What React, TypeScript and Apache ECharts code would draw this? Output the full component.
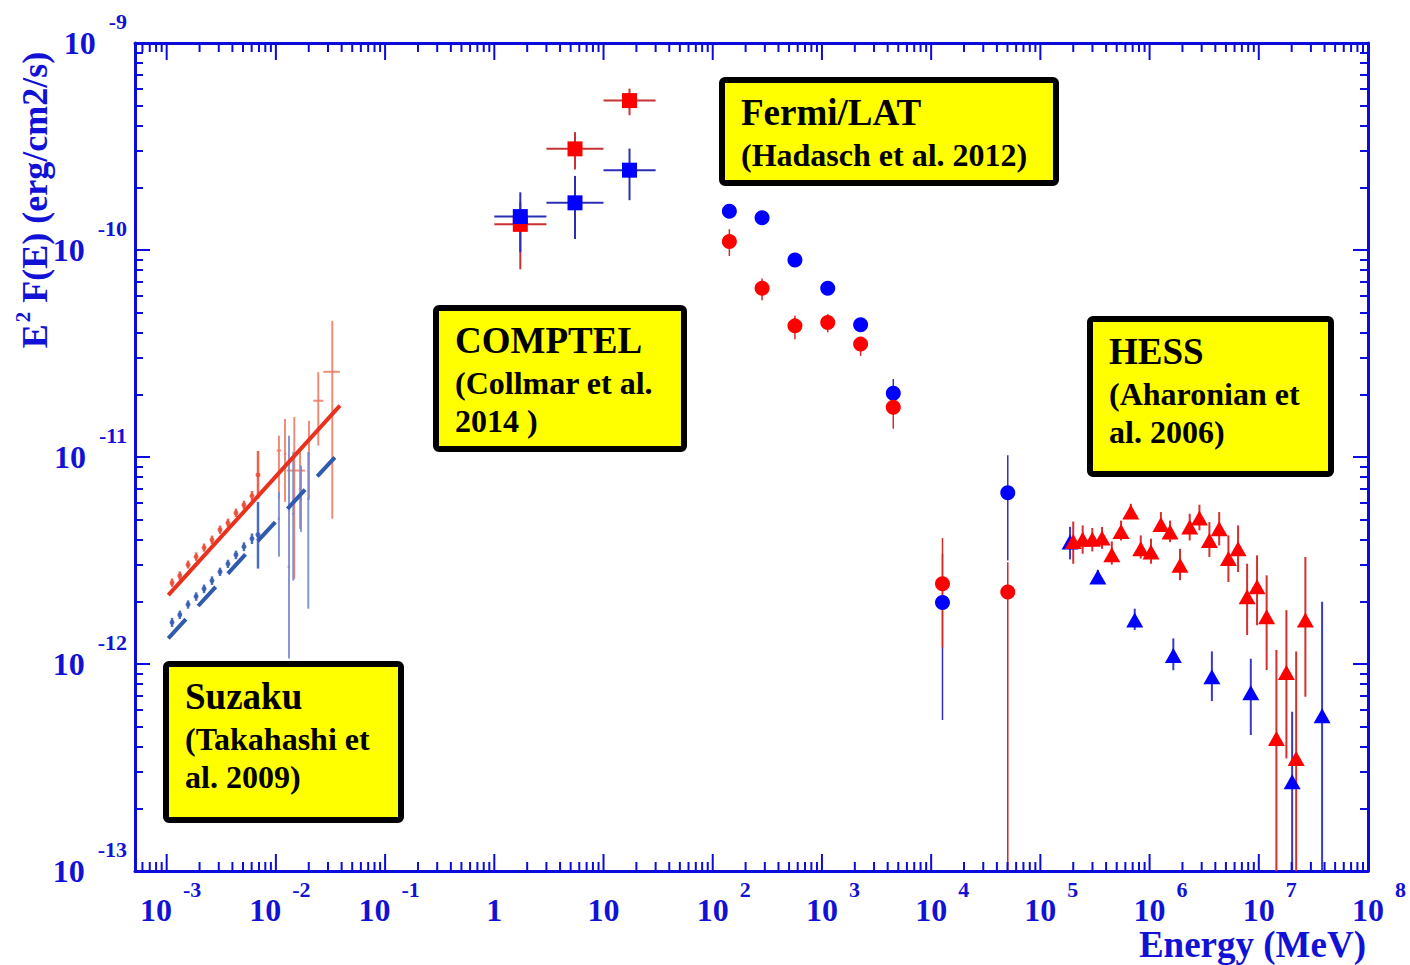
import React, { useEffect, useRef } from 'react';
import * as echarts from 'echarts';

const AXIS_BLUE = '#0b0bdc';
const TEXT_BLUE = '#1212d6';
const SERIF = '"Liberation Serif", "Times New Roman", Times, serif';

// Axis ranges (MeV on x, erg/cm2/s on y)
const X_MIN = Math.pow(10, -3.29);
const X_MAX = 1e8;
const Y_MIN = 1e-13;
const Y_MAX = 1e-9;

// Tick labels
const xTickExp = [-3, -2, -1, 0, 1, 2, 3, 4, 5, 6, 7, 8];
const xTickBase = ['10', '10', '10', '1', '10', '10', '10', '10', '10', '10', '10', '10'];
const xTickPower = ['-3', '-2', '-1', '', '', '2', '3', '4', '5', '6', '7', '8'];
const yTickExp = [-13, -12, -11, -10, -9];
const yTickBase = ['10', '10', '10', '10', '10'];
const yTickPower = ['-13', '-12', '-11', '-10', '-9'];
// Minor ticks sit at 2..9 times each decade
const minorMultipliers = [2, 3, 4, 5, 6, 7, 8, 9];

// Suzaku (Takahashi et al. 2009): power-law fits
const suzakuFitRed = [[1.035e-3, 2.15e-12], [0.0386, 1.77e-11]];
const suzakuFitBlue = [[1.035e-3, 1.33e-12], [0.0386, 1.06e-11]];

// Suzaku XIS points
const xisEnergy = [1.12e-3, 1.32e-3, 1.57e-3, 1.86e-3, 2.2e-3, 2.6e-3, 3.08e-3, 3.64e-3, 4.31e-3, 5.1e-3, 6.04e-3, 6.86e-3];
const xisRed = [2.47e-12, 2.67e-12, 3.02e-12, 3.3e-12, 3.65e-12, 3.98e-12, 4.45e-12, 4.81e-12, 5.37e-12, 5.87e-12, 6.49e-12, 8.2e-12];
const xisRedLo = [2.36e-12, 2.55e-12, 2.89e-12, 3.15e-12, 3.49e-12, 3.8e-12, 4.25e-12, 4.59e-12, 5.13e-12, 5.6e-12, 6.15e-12, 6.28e-12];
const xisRedHi = [2.59e-12, 2.8e-12, 3.16e-12, 3.46e-12, 3.82e-12, 4.17e-12, 4.66e-12, 5.04e-12, 5.63e-12, 6.15e-12, 6.85e-12, 1.07e-11];
const xisBlue = [1.59e-12, 1.73e-12, 1.94e-12, 2.12e-12, 2.31e-12, 2.53e-12, 2.79e-12, 3.05e-12, 3.37e-12, 3.69e-12, 4.03e-12, 4.21e-12];
const xisBlueLo = [1.51e-12, 1.65e-12, 1.85e-12, 2.02e-12, 2.2e-12, 2.41e-12, 2.66e-12, 2.91e-12, 3.21e-12, 3.51e-12, 3.8e-12, 2.89e-12];
const xisBlueHi = [1.67e-12, 1.81e-12, 2.03e-12, 2.22e-12, 2.42e-12, 2.65e-12, 2.92e-12, 3.19e-12, 3.53e-12, 3.87e-12, 4.27e-12, 6.07e-12];

// Suzaku HXD points
const hxdRedEnergy = [0.01067, 0.01212, 0.01474, 0.01662, 0.0201, 0.02444, 0.03284];
const hxdRedELo = [0.01017, 0.0118, 0.01256, 0.0162, 0.0196, 0.02201, 0.02717];
const hxdRedEHi = [0.0112, 0.01245, 0.01847, 0.01705, 0.0206, 0.02717, 0.03857];
const hxdRed = [1.074e-11, 1.035e-11, 8.6e-12, 7.02e-12, 1.035e-11, 1.87e-11, 2.58e-11];
const hxdRedLo = [6.28e-12, 6.07e-12, 2.58e-12, 4.5e-12, 6.28e-12, 1.135e-11, 5.03e-12];
const hxdRedHi = [1.268e-11, 1.526e-11, 1.561e-11, 1.094e-11, 1.497e-11, 2.57e-11, 4.55e-11];
const hxdBlueEnergy = [0.01067, 0.01318, 0.01443, 0.01698, 0.0198];
const hxdBlueELo = [0.0104, 0.0128, 0.0141, 0.0166, 0.0193];
const hxdBlueEHi = [0.0109, 0.0135, 0.0148, 0.0174, 0.0203];
const hxdBlue = [5.03e-12, 2.95e-12, 5.32e-12, 6.28e-12, 6.28e-12];
const hxdBlueLo = [3.3e-12, 1.063e-12, 2.53e-12, 4.35e-12, 1.85e-12];
const hxdBlueHi = [6.79e-12, 1.268e-11, 1.058e-11, 9.09e-12, 1.058e-11];

// COMPTEL (Collmar et al. 2014)
const comptelEnergy = [1.73, 5.48, 17.3];
const comptelBinLo = [1, 3, 10];
const comptelBinHi = [3, 10, 30];
const comptelRed = [1.33e-10, 3.08e-10, 5.27e-10];
const comptelRedLo = [8.07e-11, 2.45e-10, 4.48e-10];
const comptelRedHi = [1.7e-10, 3.71e-10, 6.02e-10];
const comptelBlue = [1.45e-10, 1.69e-10, 2.43e-10];
const comptelBlueLo = [9.75e-11, 1.13e-10, 1.74e-10];
const comptelBlueHi = [1.9e-10, 2.28e-10, 3.09e-10];

// Fermi/LAT (Hadasch et al. 2012)
const latEnergy = [142, 283, 566, 1130, 2260, 4500, 12700, 50300];
const latRed = [1.1e-10, 6.53e-11, 4.3e-11, 4.47e-11, 3.51e-11, 1.74e-11, 2.44e-12, 2.23e-12];
const latRedLo = [9.35e-11, 5.72e-11, 3.71e-11, 4.0e-11, 3.08e-11, 1.37e-11, 1.2e-12, 1e-14];
const latRedHi = [1.26e-10, 7.28e-11, 4.81e-11, 4.9e-11, 3.78e-11, 2.1e-11, 4.06e-12, 3.1e-12];
const latBlue = [1.54e-10, 1.43e-10, 8.95e-11, 6.53e-11, 4.35e-11, 2.03e-11, 1.98e-12, 6.71e-12];
const latBlueLo = [1.48e-10, 1.38e-10, 8.6e-11, 6.3e-11, 4.15e-11, 1.75e-11, 5.36e-13, 3.16e-12];
const latBlueHi = [1.6e-10, 1.49e-10, 9.3e-11, 6.8e-11, 4.55e-11, 2.38e-11, 3.41e-12, 1.02e-11];

// HESS (Aharonian et al. 2006)
const hessRedEnergy = [2.0e5, 2.44e5, 2.99e5, 3.67e5, 4.51e5, 5.48e5, 6.73e5, 8.3e5, 1.03e6, 1.27e6, 1.54e6, 1.9e6, 2.33e6, 2.86e6, 3.53e6, 4.34e6, 5.27e6, 6.46e6, 7.82e6, 9.64e6, 1.18e7, 1.45e7, 1.79e7, 2.2e7, 2.67e7];
const hessRed = [3.91e-12, 4.0e-12, 4.0e-12, 4.06e-12, 3.37e-12, 4.37e-12, 5.42e-12, 3.6e-12, 3.48e-12, 4.72e-12, 4.34e-12, 3.0e-12, 4.59e-12, 5.07e-12, 3.95e-12, 4.5e-12, 3.23e-12, 3.6e-12, 2.11e-12, 2.36e-12, 1.69e-12, 4.37e-13, 9.1e-13, 3.5e-13, 1.63e-12];
const hessRedLo = [3.05e-12, 3.41e-12, 3.5e-12, 3.6e-12, 3.02e-12, 3.95e-12, 5.03e-12, 3.23e-12, 3.05e-12, 4.34e-12, 3.88e-12, 2.54e-12, 3.95e-12, 4.42e-12, 3.29e-12, 3.74e-12, 2.49e-12, 2.78e-12, 1.38e-12, 1.54e-12, 9.34e-13, 1e-14, 3.5e-13, 1e-14, 6.95e-13];
const hessRedHi = [4.88e-12, 4.67e-12, 4.54e-12, 4.59e-12, 3.91e-12, 4.93e-12, 5.94e-12, 4.18e-12, 4.03e-12, 5.42e-12, 4.93e-12, 3.6e-12, 5.32e-12, 5.88e-12, 4.85e-12, 5.42e-12, 4.18e-12, 4.67e-12, 3.05e-12, 3.35e-12, 2.68e-12, 1.17e-12, 1.82e-12, 1.15e-12, 3.29e-12];
const hessBlueEnergy = [1.87e5, 3.36e5, 7.31e5, 1.65e6, 3.72e6, 8.45e6, 2.02e7, 3.8e7];
const hessBlue = [3.88e-12, 2.63e-12, 1.63e-12, 1.1e-12, 8.68e-13, 7.26e-13, 2.7e-13, 5.63e-13];
const hessBlueLo = [3.2e-12, 2.45e-12, 1.46e-12, 9.33e-13, 6.62e-13, 4.54e-13, 1e-14, 1e-14];
const hessBlueHi = [4.6e-12, 2.85e-12, 1.85e-12, 1.33e-12, 1.15e-12, 1.06e-12, 5.88e-13, 2.0e-12];

// Annotation box texts
const suzakuLines = ['Suzaku', '(Takahashi et', 'al. 2009)'];
const comptelLines = ['COMPTEL', '(Collmar et al.', '2014 )'];
const latLines = ['Fermi/LAT', '(Hadasch et al. 2012)'];
const hessLines = ['HESS', '(Aharonian et', 'al. 2006)'];

const rows = (x: number[], y: number[], xlo: number[], xhi: number[], ylo: number[], yhi: number[]) =>
  x.map((v, i) => [v, y[i], xlo[i], xhi[i], ylo[i], yhi[i]]);

const points = (x: number[], y: number[]) => x.map((v, i) => [v, y[i]]);

function errorBars(rowsData: number[][], color: string, width: number, opacity = 1): any {
  return {
    type: 'custom',
    silent: true,
    data: rowsData,
    encode: { x: 0, y: 1 },
    renderItem: (_params: any, api: any) => {
      const x = api.value(0);
      const y = api.value(1);
      const c = api.coord([x, y]);
      const xl = api.coord([api.value(2), y])[0];
      const xh = api.coord([api.value(3), y])[0];
      const yl = api.coord([x, Math.max(api.value(4), Y_MIN)])[1];
      const yh = api.coord([x, Math.min(api.value(5), Y_MAX)])[1];
      const style = { stroke: color, lineWidth: width, opacity };
      const children: any[] = [
        { type: 'line', shape: { x1: c[0], y1: yh, x2: c[0], y2: yl }, style },
      ];
      if (xh - xl > 1) {
        children.push({ type: 'line', shape: { x1: xl, y1: c[1], x2: xh, y2: c[1] }, style });
      }
      return { type: 'group', children };
    },
  };
}

function markers(data: number[][], symbol: string, size: any, color: string, opacity = 1): any {
  return {
    type: 'scatter',
    silent: true,
    data,
    symbol,
    symbolSize: size,
    itemStyle: { color, opacity },
  };
}

const tickFont = { fontFamily: SERIF, fontWeight: 'bold', fill: TEXT_BLUE };

function xLabel(exp: number): string {
  const i = xTickExp.indexOf(exp);
  if (i < 0) return '';
  const p = xTickPower[i];
  if (!p) return `{xb|${xTickBase[i]}}`;
  return `{${p.charAt(0) === '-' ? 'xbn' : 'xbp'}|${xTickBase[i]}}{xs|${p}}`;
}

// The base "10" sits at the bottom of the line, the exponent at its top
const xLabelRich = {
  xb: { ...tickFont, fontSize: 32, lineHeight: 47, verticalAlign: 'bottom' },
  xbp: { ...tickFont, fontSize: 32, lineHeight: 47, verticalAlign: 'bottom', padding: [0, 0, 0, 22] },
  xbn: { ...tickFont, fontSize: 32, lineHeight: 47, verticalAlign: 'bottom', padding: [0, 0, 0, 8] },
  xs: { ...tickFont, fontSize: 22, verticalAlign: 'top', padding: [0, 0, 0, 11] },
};

// Energy-axis ticks: [value, y anchor, 1 = decade / 0 = minor, exponent]
const xTickRows: number[][] = [];
xTickExp.forEach((e) => xTickRows.push([Math.pow(10, e), Y_MIN, 1, e]));
for (let e = -4; e <= 7; e++) {
  minorMultipliers.forEach((m) => {
    const v = m * Math.pow(10, e);
    if (v > X_MIN && v < X_MAX) xTickRows.push([v, Y_MIN, 0, e]);
  });
}

const xTickSeries: any = {
  type: 'custom',
  silent: true,
  data: xTickRows,
  encode: { x: 0, y: 1 },
  z: 5,
  renderItem: (_params: any, api: any) => {
    const v = api.value(0);
    const major = api.value(2) === 1;
    const b = api.coord([v, Y_MIN]);
    const t = api.coord([v, Y_MAX]);
    const len = major ? 17 : 9;
    const style = { stroke: AXIS_BLUE, lineWidth: 2 };
    const children: any[] = [
      { type: 'line', shape: { x1: b[0], y1: b[1], x2: b[0], y2: b[1] - len }, style },
      { type: 'line', shape: { x1: t[0], y1: t[1], x2: t[0], y2: t[1] + len }, style },
    ];
    if (major) {
      children.push({
        type: 'text',
        x: b[0],
        y: b[1] + 7.5,
        style: {
          text: xLabel(api.value(3)),
          rich: xLabelRich,
          align: 'center',
          verticalAlign: 'top',
          textAlign: 'center',
          textVerticalAlign: 'top',
        },
      });
    }
    return { type: 'group', children };
  },
};

function yLabel(v: number): string {
  const l = Math.log10(v);
  const e = Math.round(l);
  if (Math.abs(l - e) > 0.01) return '';
  const i = yTickExp.indexOf(e);
  if (i < 0) return '';
  return `{yb|${yTickBase[i]}}{ys|${yTickPower[i]}}`;
}

function box(left: number, top: number, width: number, height: number, lines: string[]): any {
  const children: any[] = [
    {
      type: 'rect',
      shape: { x: left + 3, y: top + 3, width: width - 6, height: height - 6, r: 3 },
      style: { fill: '#ffff00', stroke: '#000000', lineWidth: 6 },
    },
  ];
  const offsets = [35, 78, 116];
  lines.forEach((t, i) => {
    children.push({
      type: 'text',
      x: left + 22,
      y: top + offsets[i],
      style: {
        text: t,
        fill: '#000000',
        font: `bold ${i === 0 ? 37 : 32}px ${SERIF}`,
        align: 'left',
        verticalAlign: 'middle',
        textAlign: 'left',
        textVerticalAlign: 'middle',
      },
    });
  });
  return { type: 'group', silent: true, children };
}

const axisLine = { show: true, onZero: false, lineStyle: { color: AXIS_BLUE, width: 3 } };

function xAxisDef(position: 'top' | 'bottom'): any {
  return {
    type: 'log',
    logBase: 10,
    position,
    min: X_MIN,
    max: X_MAX,
    axisLine,
    axisTick: { show: false },
    minorTick: { show: false },
    axisLabel: { show: false },
    splitLine: { show: false },
    minorSplitLine: { show: false },
  };
}

function yAxisDef(position: 'left' | 'right', withLabels: boolean): any {
  return {
    type: 'log',
    logBase: 10,
    position,
    min: Y_MIN,
    max: Y_MAX,
    splitNumber: 4,
    axisLine,
    axisTick: { show: true, inside: true, length: 15, lineStyle: { color: AXIS_BLUE, width: 2 } },
    minorTick: { show: true, splitNumber: 9, length: 8, lineStyle: { color: AXIS_BLUE, width: 2 } },
    splitLine: { show: false },
    minorSplitLine: { show: false },
    axisLabel: withLabels
      ? {
          show: true,
          interval: 0,
          margin: 8,
          hideOverlap: false,
          formatter: yLabel,
          rich: {
            yb: { fontFamily: SERIF, fontWeight: 'bold', color: TEXT_BLUE, fontSize: 32, lineHeight: 65, verticalAlign: 'middle' },
            ys: { fontFamily: SERIF, fontWeight: 'bold', color: TEXT_BLUE, fontSize: 22, lineHeight: 22, verticalAlign: 'top', padding: [0, 0, 0, 13] },
          },
        }
      : { show: false },
  };
}

export default function App() {
  const ref = useRef<HTMLDivElement>(null);

  useEffect(() => {
    if (!ref.current) return;
    const chart = echarts.init(ref.current, undefined, { renderer: 'svg' });

    const series: any[] = [
      xTickSeries,
      // Suzaku
      errorBars(rows(hxdRedEnergy, hxdRed, hxdRedELo, hxdRedEHi, hxdRedLo, hxdRedHi), '#ec7a60', 2, 0.85),
      errorBars(rows(hxdBlueEnergy, hxdBlue, hxdBlueELo, hxdBlueEHi, hxdBlueLo, hxdBlueHi), '#7484cc', 2, 0.85),
      errorBars(rows(xisEnergy, xisBlue, xisEnergy, xisEnergy, xisBlueLo, xisBlueHi), '#3a5cb4', 2.5, 0.9),
      markers(points(xisEnergy, xisBlue), 'circle', 5, '#3a5cb4', 0.9),
      {
        type: 'line',
        silent: true,
        data: suzakuFitBlue,
        showSymbol: false,
        lineStyle: { color: '#2f5aae', width: 4, type: [26, 18] },
      },
      errorBars(rows(xisEnergy, xisRed, xisEnergy, xisEnergy, xisRedLo, xisRedHi), '#e8503c', 2.5, 0.9),
      markers(points(xisEnergy, xisRed), 'circle', 5, '#e8503c', 0.9),
      {
        type: 'line',
        silent: true,
        data: suzakuFitRed,
        showSymbol: false,
        lineStyle: { color: '#e8321e', width: 4 },
      },
      // COMPTEL
      errorBars(rows(comptelEnergy, comptelRed, comptelBinLo, comptelBinHi, comptelRedLo, comptelRedHi), '#c83232', 2),
      markers(points(comptelEnergy, comptelRed), 'rect', 15, '#ff0000'),
      errorBars(rows(comptelEnergy, comptelBlue, comptelBinLo, comptelBinHi, comptelBlueLo, comptelBlueHi), '#2d2db4', 2),
      markers(points(comptelEnergy, comptelBlue), 'rect', 15, '#0000ff'),
      // Fermi/LAT
      errorBars(rows(latEnergy, latBlue, latEnergy, latEnergy, latBlueLo, latBlueHi), '#3030c0', 1.5),
      errorBars(rows(latEnergy, latRed, latEnergy, latEnergy, latRedLo, latRedHi), '#d02a2a', 1.5),
      markers(points(latEnergy, latBlue), 'circle', 15, '#0000ff'),
      markers(points(latEnergy, latRed), 'circle', 15, '#ff0000'),
      // HESS
      errorBars(rows(hessBlueEnergy, hessBlue, hessBlueEnergy, hessBlueEnergy, hessBlueLo, hessBlueHi), '#3a3ac4', 2),
      markers(points(hessBlueEnergy, hessBlue), 'triangle', [17, 15], '#0000ff'),
      errorBars(rows(hessRedEnergy, hessRed, hessRedEnergy, hessRedEnergy, hessRedLo, hessRedHi), '#d43030', 2),
      markers(points(hessRedEnergy, hessRed), 'triangle', [17, 15], '#ff0000'),
    ];

    chart.setOption({
      animation: false,
      backgroundColor: '#ffffff',
      grid: { left: 135, right: 42, top: 43, bottom: 94, containLabel: false },
      xAxis: [xAxisDef('bottom'), xAxisDef('top')],
      yAxis: [yAxisDef('left', true), yAxisDef('right', false)],
      series,
      graphic: [
        box(163, 661, 241, 162, suzakuLines),
        box(433, 305, 254, 147, comptelLines),
        box(719, 77, 340, 109, latLines),
        box(1087, 316, 247, 161, hessLines),
        {
          type: 'text',
          silent: true,
          x: 35,
          y: 200,
          rotation: Math.PI / 2,
          style: {
            text: '{a|E}{b|2}{a| F(E) (erg/cm2/s)}',
            align: 'center',
            verticalAlign: 'middle',
            textAlign: 'center',
            textVerticalAlign: 'middle',
            rich: {
              a: { fontFamily: SERIF, fontWeight: 'bold', fontSize: 36, lineHeight: 46, fill: TEXT_BLUE, verticalAlign: 'middle' },
              b: { fontFamily: SERIF, fontWeight: 'bold', fontSize: 21, lineHeight: 21, fill: TEXT_BLUE, verticalAlign: 'top', padding: [0, 0, 0, 2] },
            },
          },
        },
        {
          type: 'text',
          silent: true,
          x: 1366,
          y: 944.5,
          style: {
            text: 'Energy (MeV)',
            fill: TEXT_BLUE,
            font: `bold 37px ${SERIF}`,
            lineHeight: 28,
            align: 'right',
            verticalAlign: 'middle',
            textAlign: 'right',
            textVerticalAlign: 'middle',
          },
        },
      ],
    });

    return () => chart.dispose();
  }, []);

  return (
    <div
      ref={ref}
      style={{ position: 'absolute', left: 0, top: 0, width: 1410, height: 965, background: '#ffffff' }}
    />
  );
}
